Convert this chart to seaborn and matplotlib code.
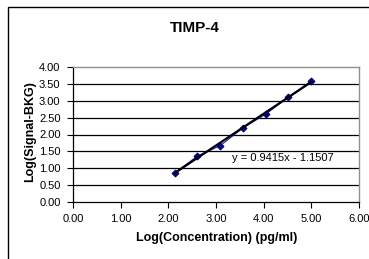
import numpy as np
import pandas as pd
import matplotlib
matplotlib.use('Agg')
import matplotlib.pyplot as plt
import seaborn as sns
from matplotlib.patches import Rectangle

# data
log_conc = [2.14, 2.61, 3.09, 3.57, 4.05, 4.52, 5.00]
log_signal = [0.87, 1.36, 1.67, 2.20, 2.61, 3.11, 3.59]
slope = 0.9415
intercept = -1.1507
x_ticks = [0, 1, 2, 3, 4, 5, 6]
y_ticks = [0, 0.5, 1, 1.5, 2, 2.5, 3, 3.5, 4]

sns.set_style('white')
plt.rcParams['font.family'] = ['Liberation Sans', 'DejaVu Sans']
plt.rcParams['text.color'] = 'black'
plt.rcParams['axes.labelcolor'] = 'black'
plt.rcParams['xtick.color'] = 'black'
plt.rcParams['ytick.color'] = 'black'

df = pd.DataFrame({'x': log_conc, 'y': log_signal})
trend = pd.DataFrame({'x': [min(log_conc), max(log_conc)]})
trend['y'] = slope * trend['x'] + intercept

fig = plt.figure(figsize=(3.69, 2.59), dpi=100)
ax = fig.add_axes([73 / 369, 1 - 202 / 259, 286 / 369, 135 / 259])

# outer chart frame (runs off the right and bottom edges)
fig.patches.append(Rectangle((8 / 369, -0.1), 1.2, 1 - 7 / 259 + 0.1,
                             transform=fig.transFigure, fill=False,
                             edgecolor='black', linewidth=1.0))

for yv in y_ticks[1:-1]:
    ax.axhline(yv, color='black', linewidth=0.9, zorder=1)

sns.lineplot(data=df, x='x', y='y', ax=ax, color='#2020c0', linewidth=0.8,
             marker='D', markersize=3.5, markerfacecolor='#000080',
             markeredgecolor='#000080', zorder=3)
sns.lineplot(data=trend, x='x', y='y', ax=ax, color='black', linewidth=1.6,
             zorder=4)

ax.set_xlim(0, 6)
ax.set_ylim(0, 4)
ax.set_xticks(x_ticks)
ax.set_yticks(y_ticks)
ax.set_xticklabels([f'{v:.2f}' for v in x_ticks], fontsize=8)
ax.set_yticklabels([f'{v:.2f}' for v in y_ticks], fontsize=8)
ax.tick_params(axis='x', direction='out', length=4, width=0.8, pad=5)
ax.tick_params(axis='y', direction='out', length=4, width=0.8, pad=5)
ax.tick_params(bottom=True, left=True)

for s in ['top', 'right']:
    ax.spines[s].set_color('#909090')
    ax.spines[s].set_linewidth(1.0)
for s in ['bottom', 'left']:
    ax.spines[s].set_color('black')
    ax.spines[s].set_linewidth(0.9)

ax.set_xlabel('Log(Concentration) (pg/ml)', fontsize=9, fontweight='bold')
ax.set_ylabel('Log(Signal-BKG)', fontsize=9, fontweight='bold')
ax.xaxis.set_label_coords(217 / 369, 1 - 238 / 259, transform=fig.transFigure)
ax.yaxis.set_label_coords(30 / 369, 1 - 132 / 259, transform=fig.transFigure)
ax.xaxis.label.set_va('center')
ax.yaxis.label.set_va('center')

ax.text(3.33, 1.30, f'y = {slope}x - {abs(intercept)}', fontsize=8,
        va='center', ha='left')

fig.text(195 / 369, 1 - 27.5 / 259, 'TIMP-4', fontsize=11, fontweight='bold',
         ha='center', va='center')

fig.savefig('out.png', dpi=100)
